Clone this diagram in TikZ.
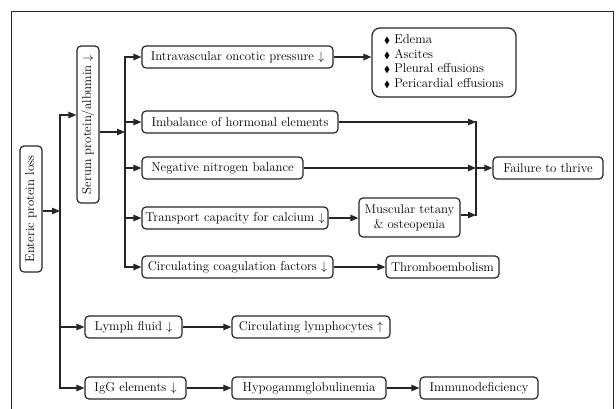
\documentclass[tikz,border=0pt]{standalone}
\usepackage{amssymb}
\usetikzlibrary{arrows.meta,calc}
\begin{document}
\begin{tikzpicture}[x=1pt,y=-1pt,
  box/.style={draw=black!85,line width=1.2pt,rounded corners=4pt,inner sep=0pt,
    minimum height=22pt,font=\fontsize{12.8}{14.7}\selectfont,text=black},
  arr/.style={line width=1.2pt,draw=black!85,-{Triangle[length=8pt,width=6.5pt]}},
  ln/.style={line width=1.2pt,draw=black!85}]
\useasboundingbox (0,0) rectangle (616,408);
\draw[line width=1pt,black!85] (11,412) -- (11,11) -- (613,11) -- (613,412);
% nodes
\node[box,minimum width=22pt,minimum height=157pt] (serum) at (88,124.5) {\rotatebox{90}{Serum protein/albumin $\downarrow$}};
\node[box,minimum width=22pt,minimum height=126pt] (enteric) at (31,209) {\rotatebox{90}{Enteric protein loss}};
\node[box,minimum width=191pt] (intra) at (237.5,57) {Intravascular oncotic pressure $\downarrow$};
\node[box,minimum width=144pt,minimum height=69pt,rounded corners=8pt] (edema) at (444,62.5)
  {\begin{tabular}{@{}l@{}}$\scriptstyle\blacklozenge$ Edema\\ $\scriptstyle\blacklozenge$ Ascites\\ $\scriptstyle\blacklozenge$ Pleural effusions\\ $\scriptstyle\blacklozenge$ Pericardial effusions\end{tabular}};
\node[box,minimum width=196pt] (imbal) at (240,122) {Imbalance of hormonal elements};
\node[box,minimum width=161pt] (neg) at (222.5,168) {Negative nitrogen balance};
\node[box,minimum width=186pt] (trans) at (235,218) {Transport capacity for calcium $\downarrow$};
\node[box,minimum width=191pt] (circ) at (237.5,267) {Circulating coagulation factors $\downarrow$};
\node[box,minimum width=101pt,minimum height=39pt,align=center] (muscle) at (409.5,217.5) {Muscular tetany\\ \& osteopenia};
\node[box,minimum width=113pt] (thromb) at (442.5,267) {Thromboembolism};
\node[box,minimum width=110pt] (fail) at (548,168) {Failure to thrive};
\node[box,minimum width=97pt] (lymph) at (133.5,327) {Lymph fluid $\downarrow$};
\node[box,minimum width=158pt] (lymphoc) at (311,327) {Circulating lymphocytes $\uparrow$};
\node[box,minimum width=101pt] (igg) at (135.5,388) {IgG elements $\downarrow$};
\node[box,minimum width=154pt] (hypo) at (309,388) {Hypogammglobulinemia};
\node[box,minimum width=118pt] (immuno) at (479,388) {Immunodeficiency};
% coordinates
\coordinate (busA) at (60,0);
\coordinate (busB) at (125,0);
\coordinate (col) at (476,0);
\coordinate (ej) at (60,211);
\coordinate (sj) at (125,132);
% bus A
\draw[ln] ($(busA |- 0,115)+(0,-0.6)$) -- ($(busA |- igg.west)+(0,0.6)$);
\draw[arr] (enteric.east |- ej) -- (ej);
\draw[arr] (busA |- 0,115) -- (serum.west |- 0,115);
\draw[arr] (busA |- lymph.west) -- (lymph.west);
\draw[arr] (busA |- igg.west) -- (igg.west);
% bus B
\draw[ln] ($(busB |- intra.west)+(0,-0.6)$) -- ($(busB |- circ.west)+(0,0.6)$);
\draw[arr] (serum.east |- sj) -- (sj);
\foreach \n in {intra,imbal,neg,trans,circ} \draw[arr] (busB |- \n.west) -- (\n.west);
% right side
\draw[arr] (intra.east) -- (intra.east -| edema.west);
\draw[arr] (trans.east) -- (trans.east -| muscle.west);
\draw[arr] (circ.east) -- (thromb.west);
\draw[arr] (imbal.east) -- (col |- imbal.east);
\draw[arr] (neg.east) -- (col |- neg.east);
\draw[arr] (muscle.east |- 0,215) -- (col |- 0,215);
\draw[ln] ($(col |- imbal.east)+(0,-0.6)$) -- ($(col |- 0,215)+(0,0.6)$);
\draw[arr] (col |- fail.west) -- (fail.west);
\draw[arr] (lymph.east) -- (lymphoc.west);
\draw[arr] (igg.east) -- (hypo.west);
\draw[arr] (hypo.east) -- (immuno.west);
\end{tikzpicture}
\end{document}
